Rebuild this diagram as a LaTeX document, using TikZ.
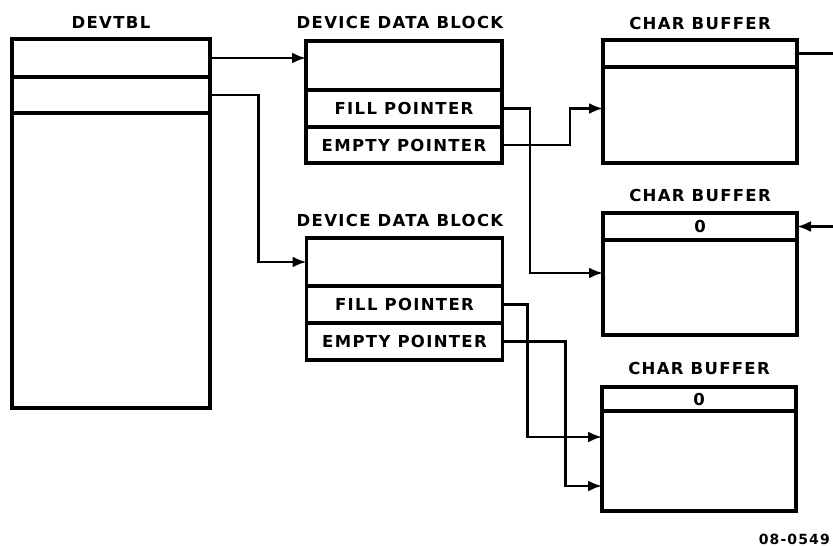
\documentclass[tikz,border=0pt]{standalone}
\usepackage{fontspec}
\setmainfont{DejaVu Sans}[LetterSpace=8]
\usetikzlibrary{calc}
\usetikzlibrary{arrows.meta}

\tikzset{
  cell/.style={draw, line width=3.2pt, inner sep=0pt, outer sep=0pt,
    font=\bfseries\fontsize{16.5}{19}\selectfont},
  title/.style={font=\bfseries\fontsize{16.5}{19}\selectfont},
  link/.style={line width=2.6pt},
  ptr/.style={link, -{Latex[length=14pt,width=11pt]}}
}

\begin{document}
\begin{tikzpicture}[x=1pt,y=-1pt]
  \useasboundingbox (0,0) rectangle (833,546);

  % device table
  \node[title] (devtbl) at (111,22) {DEVTBL};
  \node[cell, minimum width=198pt, minimum height=38pt] (dt1) at (111,58) {};
  \node[cell, minimum width=198pt, minimum height=36pt] (dt2) at (111,95) {};
  \node[cell, minimum width=198pt, minimum height=295pt] (dt3) at (111,260.5) {};

  % device data blocks
  \node[title] (ddbt1) at (400,22) {DEVICE DATA BLOCK};
  \node[cell, minimum width=196pt, minimum height=49pt] (dd1) at (404,65.5) {};
  \node[cell, minimum width=196pt, minimum height=37pt] (dd1f) at (404,108.5) {FILL POINTER};
  \node[cell, minimum width=196pt, minimum height=36pt] (dd1e) at (404,145) {EMPTY POINTER};

  \node[title] (ddbt2) at (400,220) {DEVICE DATA BLOCK};
  \node[cell, minimum width=196pt, minimum height=48pt] (dd2) at (404.5,262) {};
  \node[cell, minimum width=196pt, minimum height=37pt] (dd2f) at (404.5,304.5) {FILL POINTER};
  \node[cell, minimum width=196pt, minimum height=37pt] (dd2e) at (404.5,341.5) {EMPTY POINTER};

  % char buffers
  \node[title] (cbt1) at (700,23) {CHAR BUFFER};
  \node[cell, minimum width=194pt, minimum height=27pt] (cb1a) at (700,53.5) {};
  \node[cell, minimum width=194pt, minimum height=96pt] (cb1b) at (700,115) {};

  \node[title] (cbt2) at (700,195) {CHAR BUFFER};
  \node[cell, minimum width=194pt, minimum height=27pt] (cb2a) at (700,226.5) {0};
  \node[cell, minimum width=194pt, minimum height=95pt] (cb2b) at (700,287.5) {};

  \node[title] (cbt3) at (699,368) {CHAR BUFFER};
  \node[cell, minimum width=194pt, minimum height=24pt] (cb3a) at (699,399) {0};
  \node[cell, minimum width=194pt, minimum height=100pt] (cb3b) at (699,461) {};

  \node[font=\bfseries\fontsize{14}{16}\selectfont, anchor=east, inner sep=1pt] (fig) at (831,539) {08-0549};

  % free ends at the right margin
  \coordinate (rim1) at (833,53.5);
  \coordinate (rim2) at (833,226.5);

  % pointers
  \draw[ptr] (dt1.east) -- (dt1.east -| dd1.west);
  \draw[ptr] (dt2.east) -| ($(dt2.east)!.5!(dd2.west)$) |- (dd2.west);
  \draw[ptr] (dd1f.east) -- ++(28,0) |- ($(cb2b.west)+(0,-14.5)$);
  \draw[ptr] (dd1e.east) -- ++(68,0) |- (cb1b.west |- dd1f.east);
  \draw[ptr] (dd2f.east) -- ++(25,0) |- ($(cb3b.west)+(0,-24)$);
  \draw[ptr] (dd2e.east) -- ++(63,0) |- ($(cb3b.west)+(0,25)$);
  \draw[link] (cb1a.east) -- (rim1);
  \draw[ptr] (rim2) -- (cb2a.east);
\end{tikzpicture}
\end{document}
